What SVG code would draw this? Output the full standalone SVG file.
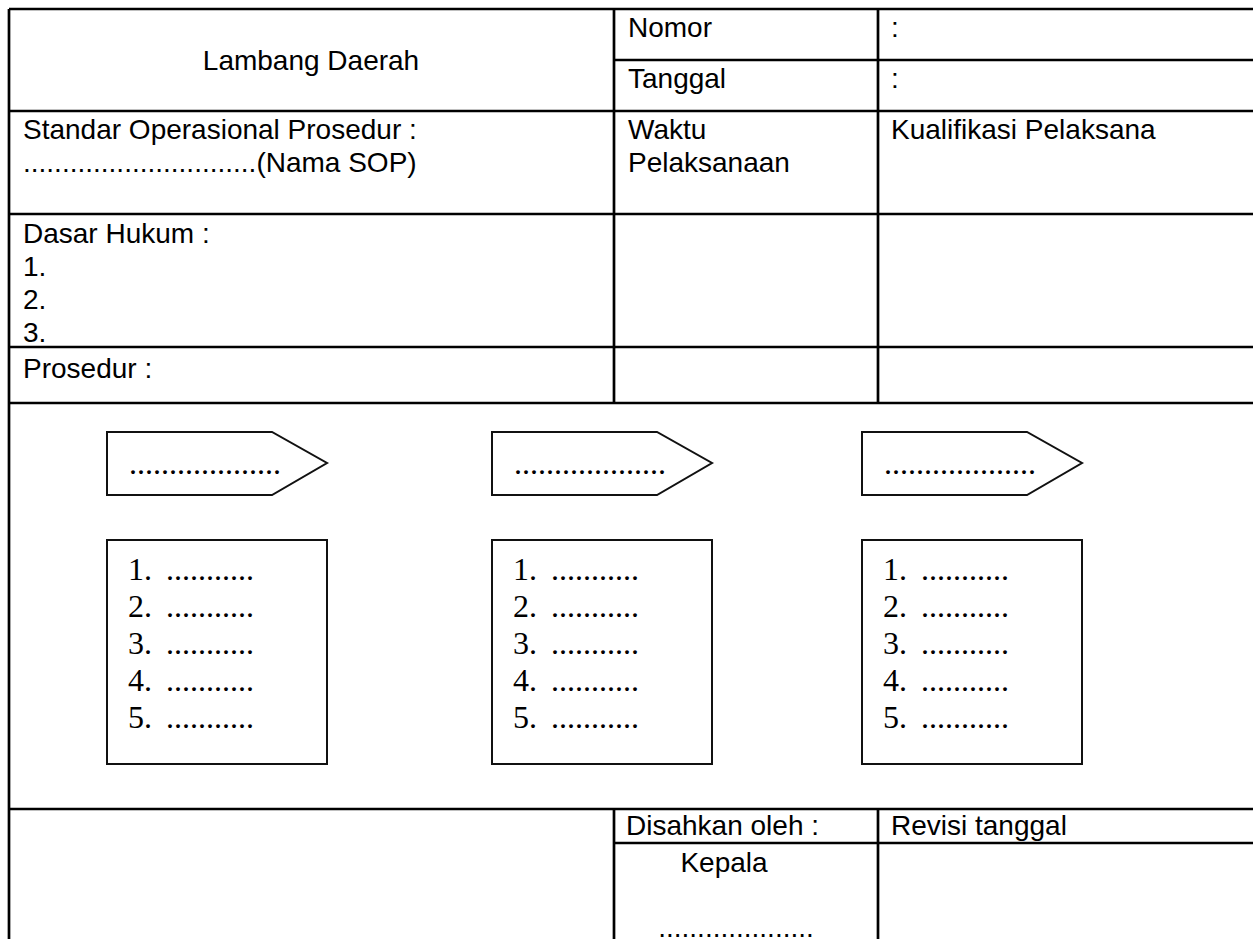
<svg xmlns="http://www.w3.org/2000/svg" width="1253" height="939" viewBox="0 0 1253 939">
<style>
.t{font-family:"Liberation Sans",Arial,sans-serif;font-size:28px;fill:#000}
.s{font-family:"Liberation Serif","Times New Roman",serif;font-size:32px;fill:#000}
.g{stroke:#000;stroke-width:2.7;fill:none}
.b{stroke:#111;stroke-width:2;fill:#fff}
</style>
<rect width="1253" height="939" fill="#fff"/>
<g id="grid">
<line class="g" x1="9" y1="9" x2="1253" y2="9"/>
<line class="g" x1="9" y1="9" x2="9" y2="939"/>
<line class="g" x1="614" y1="9" x2="614" y2="403"/>
<line class="g" x1="878" y1="9" x2="878" y2="403"/>
<line class="g" x1="614" y1="60" x2="1253" y2="60"/>
<line class="g" x1="9" y1="111" x2="1253" y2="111"/>
<line class="g" x1="9" y1="214" x2="1253" y2="214"/>
<line class="g" x1="9" y1="347" x2="1253" y2="347"/>
<line class="g" x1="9" y1="403" x2="1253" y2="403"/>
<line class="g" x1="9" y1="809" x2="1253" y2="809"/>
<line class="g" x1="614" y1="809" x2="614" y2="939"/>
<line class="g" x1="878" y1="809" x2="878" y2="939"/>
<line class="g" x1="614" y1="843" x2="1253" y2="843"/>
</g>
<g id="header">
<text class="t" x="311" y="70" text-anchor="middle">Lambang Daerah</text>
<text class="t" x="628" y="37">Nomor</text>
<text class="t" x="891" y="37">:</text>
<text class="t" x="628" y="88">Tanggal</text>
<text class="t" x="891" y="88">:</text>
<text class="t" x="23" y="139">Standar Operasional Prosedur :</text>
<text class="t" x="23" y="172">..............................(Nama SOP)</text>
<text class="t" x="628" y="139">Waktu</text>
<text class="t" x="628" y="172">Pelaksanaan</text>
<text class="t" x="891" y="139">Kualifikasi Pelaksana</text>
<text class="t" x="23" y="243">Dasar Hukum :</text>
<text class="t" x="23" y="276">1.</text>
<text class="t" x="23" y="309">2.</text>
<text class="t" x="23" y="342">3.</text>
<text class="t" x="23" y="378">Prosedur :</text>
</g>
<g id="step1">
<polygon class="b" points="107,432 272,432 327,463 272,495 107,495"/>
<text class="s" x="129" y="474">...................</text>
</g>
<g id="step2">
<polygon class="b" points="492,432 657,432 712,463 657,495 492,495"/>
<text class="s" x="514" y="474">...................</text>
</g>
<g id="step3">
<polygon class="b" points="862,432 1027,432 1082,463 1027,495 862,495"/>
<text class="s" x="884" y="474">...................</text>
</g>
<g id="list1">
<rect class="b" x="107" y="540" width="220" height="224"/>
<text class="s"><tspan x="128" y="580">1.</tspan><tspan x="166">...........</tspan></text>
<text class="s"><tspan x="128" y="617">2.</tspan><tspan x="166">...........</tspan></text>
<text class="s"><tspan x="128" y="654">3.</tspan><tspan x="166">...........</tspan></text>
<text class="s"><tspan x="128" y="691">4.</tspan><tspan x="166">...........</tspan></text>
<text class="s"><tspan x="128" y="728">5.</tspan><tspan x="166">...........</tspan></text>
</g>
<g id="list2">
<rect class="b" x="492" y="540" width="220" height="224"/>
<text class="s"><tspan x="513" y="580">1.</tspan><tspan x="551">...........</tspan></text>
<text class="s"><tspan x="513" y="617">2.</tspan><tspan x="551">...........</tspan></text>
<text class="s"><tspan x="513" y="654">3.</tspan><tspan x="551">...........</tspan></text>
<text class="s"><tspan x="513" y="691">4.</tspan><tspan x="551">...........</tspan></text>
<text class="s"><tspan x="513" y="728">5.</tspan><tspan x="551">...........</tspan></text>
</g>
<g id="list3">
<rect class="b" x="862" y="540" width="220" height="224"/>
<text class="s"><tspan x="883" y="580">1.</tspan><tspan x="921">...........</tspan></text>
<text class="s"><tspan x="883" y="617">2.</tspan><tspan x="921">...........</tspan></text>
<text class="s"><tspan x="883" y="654">3.</tspan><tspan x="921">...........</tspan></text>
<text class="s"><tspan x="883" y="691">4.</tspan><tspan x="921">...........</tspan></text>
<text class="s"><tspan x="883" y="728">5.</tspan><tspan x="921">...........</tspan></text>
</g>
<g id="footer">
<text class="t" x="626" y="835">Disahkan oleh :</text>
<text class="t" x="891" y="835">Revisi tanggal</text>
<text class="t" x="724" y="872" text-anchor="middle">Kepala</text>
<text class="t" x="736" y="937" text-anchor="middle">....................</text>
</g>
<g id="connectors"></g>
</svg>
